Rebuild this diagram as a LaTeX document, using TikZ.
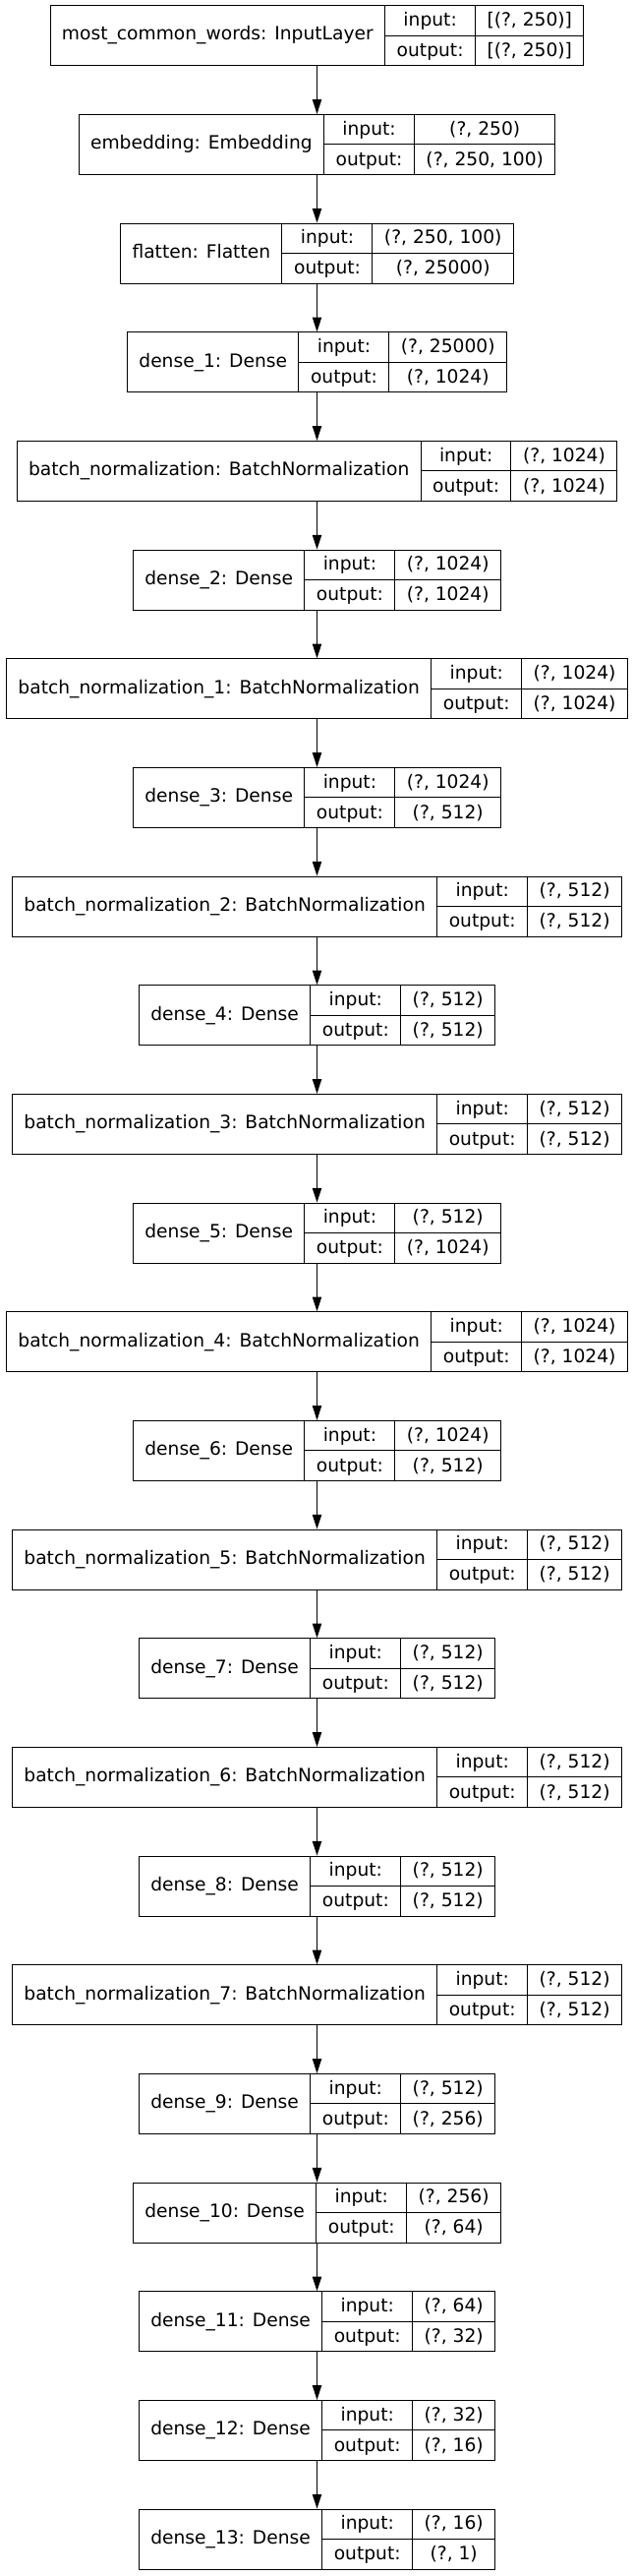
\documentclass[tikz,border=0pt]{standalone}
\usepackage{fontspec}
\setmainfont{DejaVu Sans}
\usetikzlibrary{arrows.meta}
\setlength{\arrayrulewidth}{0.75pt}
\newcommand{\rowstrut}{\rule[-6.9pt]{0pt}{22.5pt}}
\newcommand{\cellpad}{\hspace{8.8pt}}
\newcommand{\layerrec}[3]{%
  \begin{tabular}{@{\cellpad}c@{\cellpad}|@{}c@{}}
    #1 &
    \begin{tabular}{@{\cellpad}c@{\cellpad}|@{\cellpad}c@{\cellpad}}
      \rowstrut input: & #2 \\ \hline
      \rowstrut output: & #3
    \end{tabular}
  \end{tabular}}

\begin{document}
\begin{tikzpicture}[
        x=1pt, y=1pt,
        layerbox/.style={draw=black, line width=0.75pt, inner sep=0pt, font=\fontsize{14pt}{17pt}\selectfont},
        flow/.style={-{Triangle[length=11pt, width=7pt]}, line width=0.75pt, draw=black}
    ]
        \useasboundingbox (-241.875, 0) rectangle (241.875, -1964.25);
        \node[layerbox] (input) at (0, -27.15) {\layerrec{most\_common\_words: InputLayer}{[(?, 250)]}{[(?, 250)]}};
        \node[layerbox] (embed) at (0, -110.15) {\layerrec{embedding: Embedding}{(?, 250)}{(?, 250, 100)}};
        \node[layerbox] (flat) at (0, -193.15) {\layerrec{flatten: Flatten}{(?, 250, 100)}{(?, 25000)}};
        \node[layerbox] (d1) at (0, -276.15) {\layerrec{dense\_1: Dense}{(?, 25000)}{(?, 1024)}};
        \node[layerbox] (bn0) at (0, -359.15) {\layerrec{batch\_normalization: BatchNormalization}{(?, 1024)}{(?, 1024)}};
        \node[layerbox] (d2) at (0, -442.15) {\layerrec{dense\_2: Dense}{(?, 1024)}{(?, 1024)}};
        \node[layerbox] (bn1) at (0, -525.15) {\layerrec{batch\_normalization\_1: BatchNormalization}{(?, 1024)}{(?, 1024)}};
        \node[layerbox] (d3) at (0, -608.15) {\layerrec{dense\_3: Dense}{(?, 1024)}{(?, 512)}};
        \node[layerbox] (bn2) at (0, -691.15) {\layerrec{batch\_normalization\_2: BatchNormalization}{(?, 512)}{(?, 512)}};
        \node[layerbox] (d4) at (0, -774.15) {\layerrec{dense\_4: Dense}{(?, 512)}{(?, 512)}};
        \node[layerbox] (bn3) at (0, -857.15) {\layerrec{batch\_normalization\_3: BatchNormalization}{(?, 512)}{(?, 512)}};
        \node[layerbox] (d5) at (0, -940.15) {\layerrec{dense\_5: Dense}{(?, 512)}{(?, 1024)}};
        \node[layerbox] (bn4) at (0, -1023.15) {\layerrec{batch\_normalization\_4: BatchNormalization}{(?, 1024)}{(?, 1024)}};
        \node[layerbox] (d6) at (0, -1106.15) {\layerrec{dense\_6: Dense}{(?, 1024)}{(?, 512)}};
        \node[layerbox] (bn5) at (0, -1189.15) {\layerrec{batch\_normalization\_5: BatchNormalization}{(?, 512)}{(?, 512)}};
        \node[layerbox] (d7) at (0, -1272.15) {\layerrec{dense\_7: Dense}{(?, 512)}{(?, 512)}};
        \node[layerbox] (bn6) at (0, -1355.15) {\layerrec{batch\_normalization\_6: BatchNormalization}{(?, 512)}{(?, 512)}};
        \node[layerbox] (d8) at (0, -1438.15) {\layerrec{dense\_8: Dense}{(?, 512)}{(?, 512)}};
        \node[layerbox] (bn7) at (0, -1521.15) {\layerrec{batch\_normalization\_7: BatchNormalization}{(?, 512)}{(?, 512)}};
        \node[layerbox] (d9) at (0, -1604.15) {\layerrec{dense\_9: Dense}{(?, 512)}{(?, 256)}};
        \node[layerbox] (d10) at (0, -1687.15) {\layerrec{dense\_10: Dense}{(?, 256)}{(?, 64)}};
        \node[layerbox] (d11) at (0, -1770.15) {\layerrec{dense\_11: Dense}{(?, 64)}{(?, 32)}};
        \node[layerbox] (d12) at (0, -1853.15) {\layerrec{dense\_12: Dense}{(?, 32)}{(?, 16)}};
        \node[layerbox] (d13) at (0, -1936.15) {\layerrec{dense\_13: Dense}{(?, 16)}{(?, 1)}};
        \draw[flow] (input) -- (embed);
        \draw[flow] (embed) -- (flat);
        \draw[flow] (flat) -- (d1);
        \draw[flow] (d1) -- (bn0);
        \draw[flow] (bn0) -- (d2);
        \draw[flow] (d2) -- (bn1);
        \draw[flow] (bn1) -- (d3);
        \draw[flow] (d3) -- (bn2);
        \draw[flow] (bn2) -- (d4);
        \draw[flow] (d4) -- (bn3);
        \draw[flow] (bn3) -- (d5);
        \draw[flow] (d5) -- (bn4);
        \draw[flow] (bn4) -- (d6);
        \draw[flow] (d6) -- (bn5);
        \draw[flow] (bn5) -- (d7);
        \draw[flow] (d7) -- (bn6);
        \draw[flow] (bn6) -- (d8);
        \draw[flow] (d8) -- (bn7);
        \draw[flow] (bn7) -- (d9);
        \draw[flow] (d9) -- (d10);
        \draw[flow] (d10) -- (d11);
        \draw[flow] (d11) -- (d12);
        \draw[flow] (d12) -- (d13);
    \end{tikzpicture}
\end{document}
